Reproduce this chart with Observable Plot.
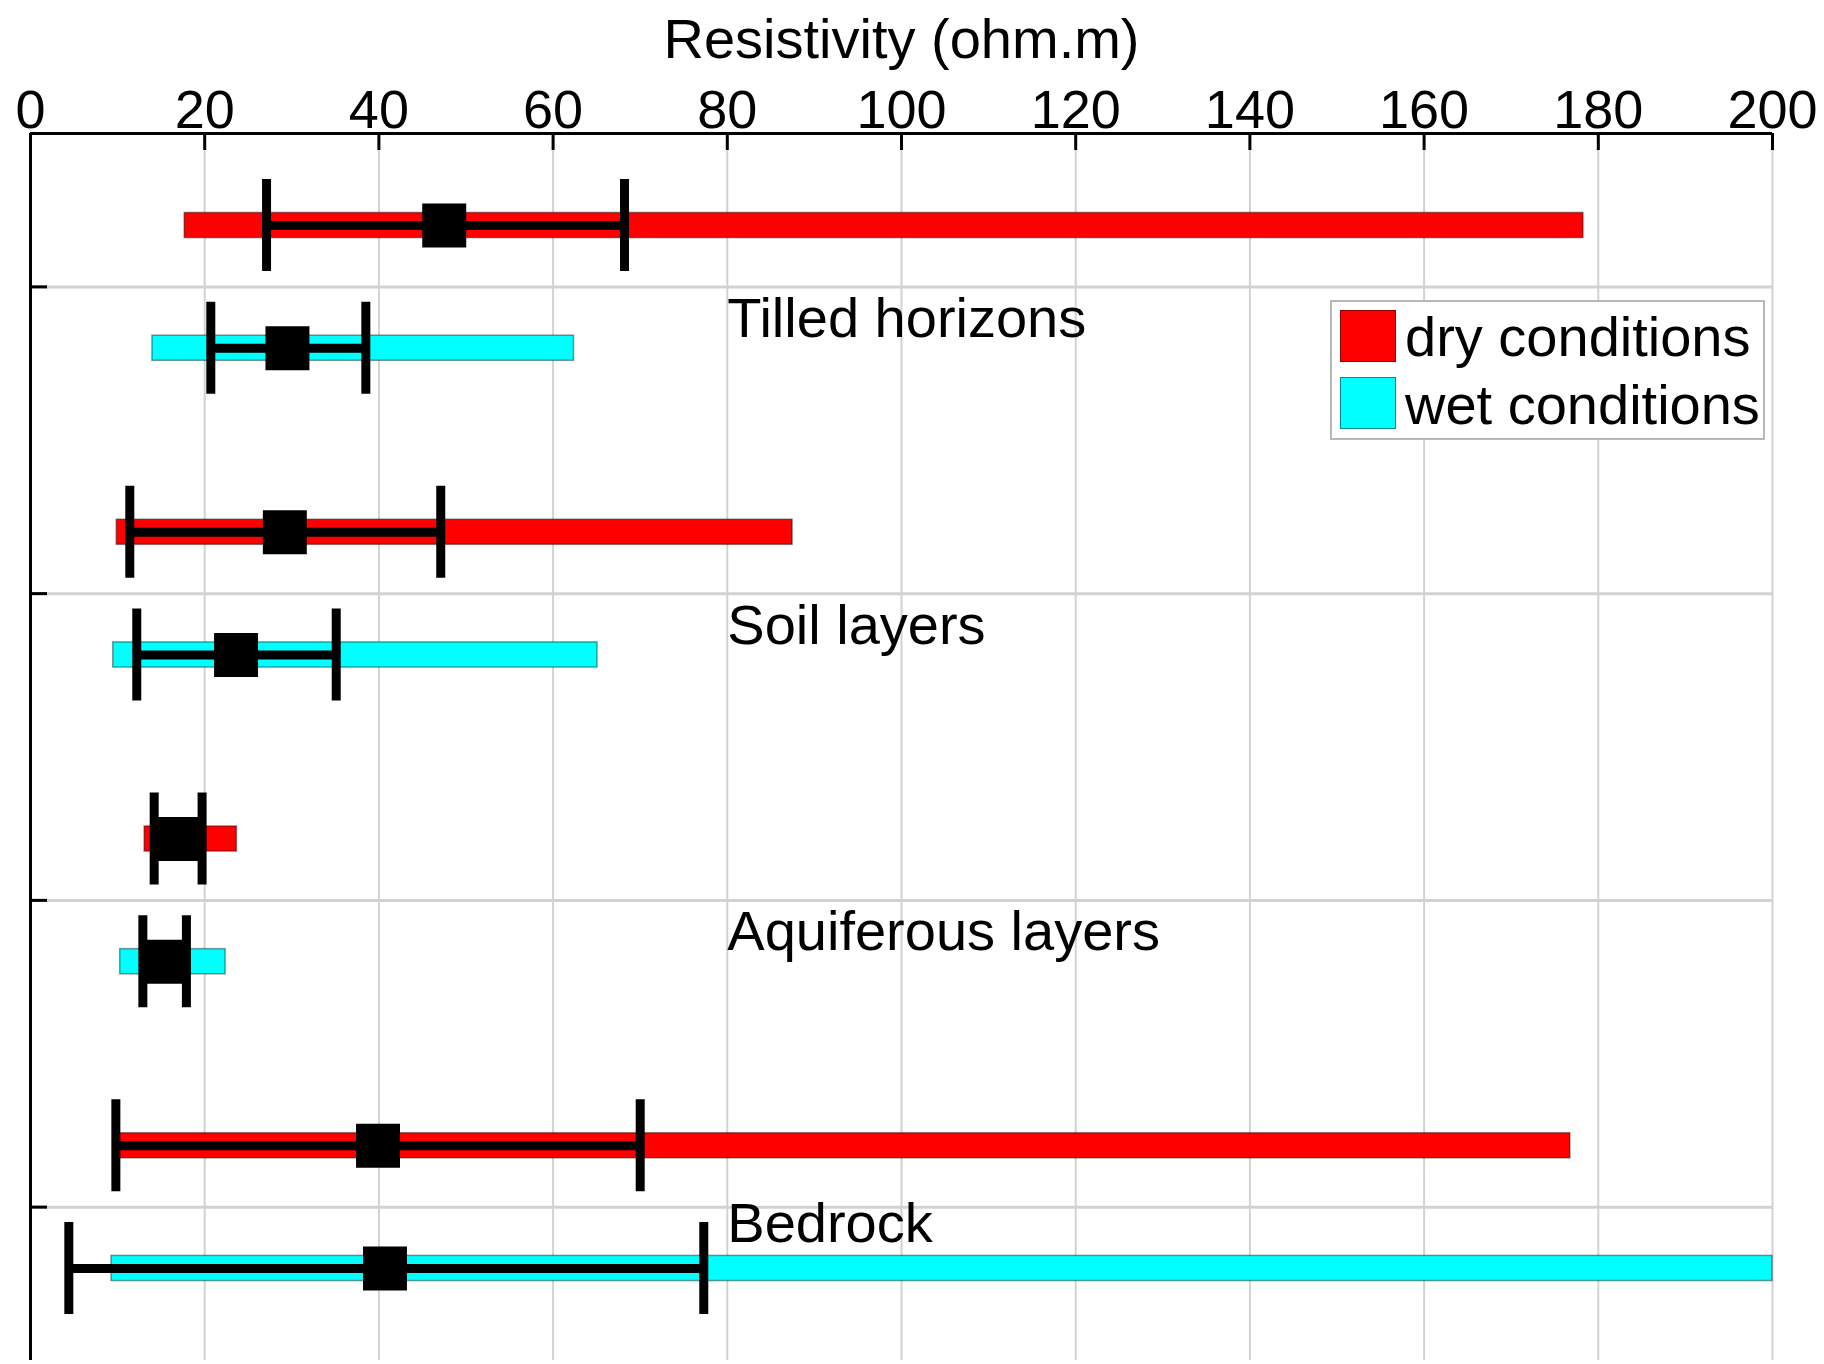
<!DOCTYPE html>
<html>
<head>
<meta charset="utf-8">
<script src="https://cdn.jsdelivr.net/npm/d3@7"></script>
<script src="https://cdn.jsdelivr.net/npm/@observablehq/plot@0.6"></script>
<style>
  html, body { margin: 0; padding: 0; background: #fff; overflow: hidden; }
  #wrap { position: relative; width: 1824px; height: 1364px; }
  #legend {
    position: absolute; left: 1330px; top: 300px; width: 431px; height: 136px;
    border: 2px solid #b8b8b8; background: #fff;
    font-family: "Liberation Sans", Arial, sans-serif; font-size: 56px; color: #000;
  }
  #legend .sw { position: absolute; left: 8px; width: 56px; height: 52px; box-sizing: border-box; border: 1px solid rgba(0,0,0,0.45); }
  #legend .lb { position: absolute; left: 73px; line-height: 64px; white-space: nowrap; }
</style>
</head>
<body>
<div id="wrap"><div id="chart"></div><div id="legend"></div></div>
<script>
// ---- data ----
const groups = ["Tilled horizons", "Soil layers", "Aquiferous layers", "Bedrock"];
const conditions = ["dry conditions", "wet conditions"];
const conditionColors = ["#ff0000", "#00ffff"];
const xTicks = [0, 20, 40, 60, 80, 100, 120, 140, 160, 180, 200];
const axisTitle = "Resistivity (ohm.m)";

// full range (bar)
const dryMin = [17.7, 9.9, 13.1, 10.0];
const dryMax = [178.3, 87.5, 23.7, 176.8];
const wetMin = [14.0, 9.5, 10.3, 9.3];
const wetMax = [62.4, 65.1, 22.4, 200];
// central value (square) and spread (error bar)
const dryCenter = [47.5, 29.2, 17.0, 39.9];
const dryLow = [27.1, 11.4, 14.2, 9.8];
const dryHigh = [68.2, 47.1, 19.7, 70.0];
const wetCenter = [29.5, 23.6, 15.6, 40.7];
const wetLow = [20.7, 12.2, 12.9, 4.4];
const wetHigh = [38.5, 35.1, 17.9, 77.3];

// ---- build table ----
const rows = [];
groups.forEach((g, i) => {
  rows.push({group: g, cond: conditions[0], pos: i + 1 - 0.2, min: dryMin[i], max: dryMax[i], c: dryCenter[i], lo: dryLow[i], hi: dryHigh[i]});
  rows.push({group: g, cond: conditions[1], pos: i + 1 + 0.2, min: wetMin[i], max: wetMax[i], c: wetCenter[i], lo: wetLow[i], hi: wetHigh[i]});
});
const groupPos = groups.map((g, i) => i + 1);

const W = 1824, H = 1364, mT = 133, mB = 4, mL = 30, mR = 52;
const frameW = W - mL - mR, frameH = H - mT - mB;
const font = "Liberation Sans, Arial, sans-serif";

const chart = Plot.plot({
  width: W, height: H,
  marginTop: mT, marginBottom: mB, marginLeft: mL, marginRight: mR,
  style: {fontFamily: font, fontSize: "56px", background: "#fff", color: "#000", overflow: "visible"},
  x: {domain: [0, 200], axis: null},
  y: {domain: [0.5, 4.5], reverse: true, axis: null},
  color: {domain: conditions, range: conditionColors},
  marks: [
    // grid
    Plot.ruleX(xTicks.slice(1), {stroke: "#d2d2d2", strokeWidth: 2}),
    Plot.ruleY(groupPos, {x1: 0, x2: 200, stroke: "#d2d2d2", strokeWidth: 3}),
    // range bars
    Plot.rect(rows, {
      x1: "min", x2: "max",
      y1: d => d.pos - 0.041, y2: d => d.pos + 0.041,
      fill: "cond", stroke: "#000", strokeOpacity: 0.4, strokeWidth: 1.5
    }),
    // error bars
    Plot.ruleY(rows, {y: "pos", x1: "lo", x2: "hi", stroke: "#000", strokeWidth: 9}),
    Plot.ruleX(rows, {x: "lo", y1: d => d.pos - 0.15, y2: d => d.pos + 0.15, stroke: "#000", strokeWidth: 9}),
    Plot.ruleX(rows, {x: "hi", y1: d => d.pos - 0.15, y2: d => d.pos + 0.15, stroke: "#000", strokeWidth: 9}),
    // central value squares
    Plot.dot(rows, {x: "c", y: "pos", symbol: "square", r: 24.8, fill: "#000", stroke: "none"}),
    // axes lines
    Plot.ruleY([0.5], {stroke: "#000", strokeWidth: 3}),
    Plot.ruleX([0], {stroke: "#000", strokeWidth: 3}),
    // inward ticks
    Plot.ruleX(xTicks, {insetBottom: frameH - 17, stroke: "#000", strokeWidth: 3}),
    Plot.ruleY(groupPos, {insetRight: frameW - 17, stroke: "#000", strokeWidth: 3}),
    // tick labels
    Plot.axisX(xTicks, {anchor: "top", tickSize: 0, tickPadding: 6, fontSize: 54, label: null, tickFormat: d => String(d)}),
    // axis title
    Plot.text([axisTitle], {frameAnchor: "top", dy: -76, lineAnchor: "bottom", fontSize: 56, text: d => d}),
    // group labels
    Plot.text(groups.slice(0, 3), {x: () => 80, y: (d, i) => i + 1, text: d => d, dy: 50, lineAnchor: "bottom", textAnchor: "start", fontSize: 56}),
    Plot.text(groups.slice(3), {x: () => 80, y: () => 4, text: d => d, dy: 35, lineAnchor: "bottom", textAnchor: "start", fontSize: 56})
  ]
});
document.getElementById("chart").appendChild(chart);

// legend
const legend = document.getElementById("legend");
conditions.forEach((c, i) => {
  const sw = document.createElement("div");
  sw.className = "sw";
  sw.style.top = (8 + i * 67) + "px";
  sw.style.background = conditionColors[i];
  legend.appendChild(sw);
  const lb = document.createElement("div");
  lb.className = "lb";
  lb.style.top = (3 + i * 68) + "px";
  lb.textContent = c;
  legend.appendChild(lb);
});
</script>
</body>
</html>
